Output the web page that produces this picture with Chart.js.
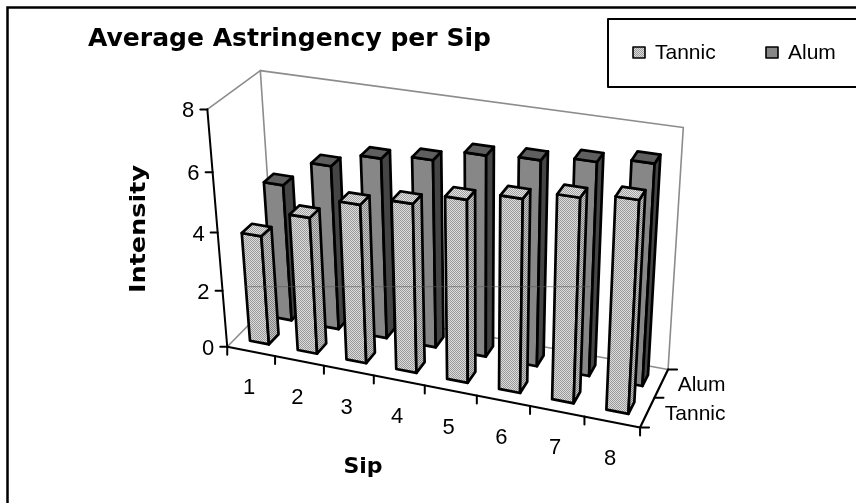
<!DOCTYPE html>
<html>
<head>
<meta charset="utf-8">
<script src="https://cdn.jsdelivr.net/npm/chart.js@4/dist/chart.umd.min.js"></script>
<style>
  html, body { margin: 0; padding: 0; background: #ffffff; }
  #wrap { width: 856px; height: 503px; }
</style>
</head>
<body>
<div id="wrap"><canvas id="c" width="856" height="503"></canvas></div>
<script>
// ---- data ----
const sipLabels = ['1', '2', '3', '4', '5', '6', '7', '8'];
const tannicValues = [3.8, 4.7, 5.4, 5.7, 6.1, 6.4, 6.7, 6.9];
const alumValues = [4.8, 5.7, 6.2, 6.4, 6.8, 6.9, 7.1, 7.3];
const seriesLabels = ['Tannic', 'Alum'];
const intensityTicks = [0, 2, 4, 6, 8];

// ---- 3D frame: unit box (X = sip axis, Y = intensity, Z = series depth) to page pixels ----
const frameAnchors = [
  [[0, 0, 0], [227, 345]],
  [[0, 0.25, 0], [222, 290]],
  [[0, 0.5, 0], [217.5, 230]],
  [[0, 0.75, 0], [213, 172]],
  [[0, 1, 0], [208, 109]],
  [[0.125, 0, 0], [277, 357]],
  [[0.25, 0, 0], [324, 367]],
  [[0.375, 0, 0], [374, 377]],
  [[0.5, 0, 0], [425, 387]],
  [[0.625, 0, 0], [476, 396]],
  [[0.75, 0, 0], [529, 407]],
  [[0.875, 0, 0], [583, 417]],
  [[1, 0, 0], [640, 426]],
  [[1, 0, 0.5], [656, 397]],
  [[1, 0, 1], [668, 368]],
  [[1, 1, 1], [684, 128]],
  [[0, 1, 1], [259, 72]]
];
const rowDepth = { centre: [0.27, 0.75], half: 0.1 };

const SANS = '"Liberation Sans", Arial, sans-serif';
const BOLD_FACE = '"DejaVu Sans", Verdana, sans-serif';

// least-squares pinhole camera through the frame anchors
function fitCamera(anchors) {
  const n = 11;
  const M = Array.from({ length: n }, () => new Array(n + 1).fill(0));
  const addRow = (a, b) => {
    for (let i = 0; i < n; i++) {
      for (let j = 0; j < n; j++) M[i][j] += a[i] * a[j];
      M[i][n] += a[i] * b;
    }
  };
  for (const [[X, Y, Z], [u, v]] of anchors) {
    addRow([X, Y, Z, 1, 0, 0, 0, 0, -u * X, -u * Y, -u * Z], u);
    addRow([0, 0, 0, 0, X, Y, Z, 1, -v * X, -v * Y, -v * Z], v);
  }
  for (let c = 0; c < n; c++) {
    let p = c;
    for (let r = c + 1; r < n; r++) if (Math.abs(M[r][c]) > Math.abs(M[p][c])) p = r;
    [M[c], M[p]] = [M[p], M[c]];
    for (let r = 0; r < n; r++) {
      if (r === c) continue;
      const f = M[r][c] / M[c][c];
      for (let k = c; k <= n; k++) M[r][k] -= f * M[c][k];
    }
  }
  return M.map((row, i) => row[n] / row[i]);
}

// viewpoint in box coordinates, used for face culling and draw order
function cameraCentre(p) {
  const M = [[p[0], p[1], p[2]], [p[4], p[5], p[6]], [p[8], p[9], p[10]]];
  const t = [p[3], p[7], 1];
  const det3 = m => m[0][0] * (m[1][1] * m[2][2] - m[1][2] * m[2][1])
    - m[0][1] * (m[1][0] * m[2][2] - m[1][2] * m[2][0])
    + m[0][2] * (m[1][0] * m[2][1] - m[1][1] * m[2][0]);
  const D = det3(M);
  const c = [];
  for (let k = 0; k < 3; k++) {
    const Mk = M.map((row, i) => row.map((v, j) => (j === k ? -t[i] : v)));
    c.push(det3(Mk) / D);
  }
  return c;
}

function makePattern(ctx, light, dark) {
  const tile = document.createElement('canvas');
  tile.width = 2; tile.height = 2;
  const t = tile.getContext('2d');
  t.fillStyle = light; t.fillRect(0, 0, 2, 2);
  t.fillStyle = dark; t.fillRect(0, 0, 1, 1); t.fillRect(1, 1, 1, 1);
  return ctx.createPattern(tile, 'repeat');
}

function drawText(ctx, str, x, y, opt) {
  ctx.save();
  ctx.font = opt.font;
  ctx.fillStyle = opt.color || '#000';
  ctx.textAlign = opt.align || 'left';
  ctx.textBaseline = opt.baseline || 'alphabetic';
  ctx.translate(x, y);
  if (opt.rotate) ctx.rotate(opt.rotate);
  if (opt.width) ctx.scale(opt.width / ctx.measureText(str).width, 1);
  ctx.fillText(str, 0, 0);
  ctx.restore();
}

const scene3d = {
  id: 'scene3d',
  beforeDatasetsDraw() { return false; },
  afterDraw(chart) {
    const ctx = chart.ctx;
    const xs = chart.scales.x, ys = chart.scales.y;
    const cam = fitCamera(frameAnchors);
    const eye = cameraCentre(cam);
    const P = (X, Y, Z) => {
      const w = cam[8] * X + cam[9] * Y + cam[10] * Z + 1;
      return [(cam[0] * X + cam[1] * Y + cam[2] * Z + cam[3]) / w,
              (cam[4] * X + cam[5] * Y + cam[6] * Z + cam[7]) / w];
    };
    const nx = px => (px - xs.left) / (xs.right - xs.left);
    const ny = py => (ys.bottom - py) / (ys.bottom - ys.top);

    const line = (a, b, color, width) => {
      ctx.beginPath(); ctx.moveTo(a[0], a[1]); ctx.lineTo(b[0], b[1]);
      ctx.strokeStyle = color; ctx.lineWidth = width; ctx.lineCap = 'round'; ctx.stroke();
    };
    const poly = (pts, fill) => {
      ctx.beginPath();
      pts.forEach((p, i) => (i ? ctx.lineTo(p[0], p[1]) : ctx.moveTo(p[0], p[1])));
      ctx.closePath();
      ctx.fillStyle = fill; ctx.fill();
      ctx.strokeStyle = '#000'; ctx.lineWidth = 2.7; ctx.lineJoin = 'round'; ctx.stroke();
    };

    ctx.save();
    ctx.fillStyle = '#fff';
    ctx.fillRect(0, 0, chart.width, chart.height);

    // outer chart border
    ctx.strokeStyle = '#000'; ctx.lineWidth = 2.5;
    ctx.strokeRect(7.5, 7.5, 900, 600);

    // title
    drawText(ctx, 'Average Astringency per Sip', 88, 46, { font: 'bold 25px ' + BOLD_FACE, width: 403 });

    // wall and floor edges
    const wall = '#8c8c8c';
    const b00 = P(0, 0, 1), b10 = P(1, 0, 1), b11 = P(1, 1, 1), b01 = P(0, 1, 1);
    line(b00, b10, wall, 1.6); line(b10, b11, wall, 1.6); line(b11, b01, wall, 1.6); line(b01, b00, wall, 1.6);
    line(P(0, 1, 0), b01, wall, 1.6);
    line(P(0, 0, 0), b00, wall, 1.6);

    // bars as boxes, farthest first
    const fills = [
      { front: makePattern(ctx, '#dcdcdc', '#999999'), top: makePattern(ctx, '#e4e4e4', '#a0a0a0'), side: makePattern(ctx, '#c8c8c8', '#808080') },
      { front: '#878787', top: '#5f5f5f', side: '#454545' }
    ];
    const boxes = [];
    chart.data.datasets.forEach((ds, d) => {
      const meta = chart.getDatasetMeta(d);
      meta.data.forEach(bar => {
        const { x, y, base, width } = bar.getProps(['x', 'y', 'base', 'width'], true);
        boxes.push({
          x0: nx(x - width / 2), x1: nx(x + width / 2),
          y0: ny(base), y1: ny(y),
          z0: rowDepth.centre[d] - rowDepth.half, z1: rowDepth.centre[d] + rowDepth.half,
          fill: fills[d]
        });
      });
    });
    const dist = b => {
      const cx = (b.x0 + b.x1) / 2 - eye[0], cy = (b.y0 + b.y1) / 2 - eye[1], cz = (b.z0 + b.z1) / 2 - eye[2];
      return cx * cx + cy * cy + cz * cz;
    };
    boxes.sort((a, b) => dist(b) - dist(a));
    boxes.forEach(b => {
      const { x0, x1, y0, y1, z0, z1, fill } = b;
      const faces = [
        { vis: eye[2] < z0, pts: [[x0, y0, z0], [x1, y0, z0], [x1, y1, z0], [x0, y1, z0]], f: fill.front },
        { vis: eye[2] > z1, pts: [[x0, y0, z1], [x1, y0, z1], [x1, y1, z1], [x0, y1, z1]], f: fill.front },
        { vis: eye[0] < x0, pts: [[x0, y0, z0], [x0, y0, z1], [x0, y1, z1], [x0, y1, z0]], f: fill.side },
        { vis: eye[0] > x1, pts: [[x1, y0, z0], [x1, y0, z1], [x1, y1, z1], [x1, y1, z0]], f: fill.side },
        { vis: eye[1] > y1, pts: [[x0, y1, z0], [x1, y1, z0], [x1, y1, z1], [x0, y1, z1]], f: fill.top }
      ];
      faces.filter(f => f.vis).forEach(f => poly(f.pts.map(p => P(...p)), f.f));
    });

    // faint gridline at intensity 2
    const g = P(0, ny(ys.getPixelForValue(2)), 0);
    line([g[0] + 23, g[1] - 4], [P(0.89, 0, 0)[0], g[1] - 4], 'rgba(90,90,90,0.6)', 1);

    // intensity axis
    line(P(0, 0, 0), P(0, 1, 0), '#000', 2);
    intensityTicks.forEach(v => {
      const p = P(0, ny(ys.getPixelForValue(v)), 0);
      line(p, [p[0] - 7, p[1]], '#000', 2);
      drawText(ctx, String(v), p[0] - 13, p[1] + 2, { font: '22px ' + SANS, align: 'right', baseline: 'middle' });
    });

    // sip axis
    line(P(0, 0, 0), P(1, 0, 0), '#000', 2.2);
    for (let i = 0; i <= sipLabels.length; i++) {
      const p = P(nx(xs.getPixelForValue(i - 0.5)), 0, 0);
      line(p, [p[0], p[1] + 8], '#000', 2);
    }
    sipLabels.forEach((lab, i) => {
      const p = P(nx(xs.getPixelForValue(i)), 0, 0);
      drawText(ctx, lab, p[0] - 2, p[1] + 37, { font: '22px ' + SANS, align: 'center', baseline: 'middle' });
    });

    // series depth axis
    line(P(1, 0, 0), P(1, 0, 1), '#000', 2.2);
    [0, 0.5, 1].forEach(z => { const p = P(1, 0, z); line(p, [p[0] + 9, p[1]], '#000', 2); });
    const labelRight = P(1, 0, 0.5)[0] + 71;
    seriesLabels.forEach((lab, d) => {
      const p = P(1, 0, d ? 0.75 : 0.25);
      drawText(ctx, lab, labelRight, p[1] + 2, { font: '21px ' + SANS, align: 'right', baseline: 'middle' });
    });

    // axis titles
    drawText(ctx, 'Intensity', 139, 229, { font: 'bold 22px ' + BOLD_FACE, align: 'center', baseline: 'middle', rotate: -Math.PI / 2, width: 128 });
    drawText(ctx, 'Sip', 363, 473, { font: 'bold 22px ' + BOLD_FACE, align: 'center' });

    // legend
    ctx.strokeStyle = '#000'; ctx.lineWidth = 2;
    ctx.strokeRect(608, 19, 300, 68);
    const legendX = [633, 766];
    chart.data.datasets.forEach((ds, d) => {
      ctx.fillStyle = fills[d].front;
      ctx.fillRect(legendX[d], 47, 12, 11);
      ctx.lineWidth = 1.6; ctx.strokeStyle = '#000';
      ctx.strokeRect(legendX[d], 47, 12, 11);
      drawText(ctx, ds.label, legendX[d] + 22, 53, { font: '21px ' + SANS, baseline: 'middle' });
    });
    ctx.restore();
  }
};

new Chart(document.getElementById('c'), {
  type: 'bar',
  data: {
    labels: sipLabels,
    datasets: [
      { label: seriesLabels[0], data: tannicValues },
      { label: seriesLabels[1], data: alumValues }
    ]
  },
  options: {
    responsive: false,
    animation: false,
    devicePixelRatio: 1,
    datasets: { bar: { grouped: false, barPercentage: 0.4, categoryPercentage: 1.0 } },
    layout: { padding: 0 },
    plugins: { legend: { display: false }, title: { display: false }, tooltip: { enabled: false } },
    scales: {
      x: { display: false, offset: true },
      y: { display: false, min: 0, max: 8, ticks: { stepSize: 2 } }
    }
  },
  plugins: [scene3d]
});
</script>
</body>
</html>
